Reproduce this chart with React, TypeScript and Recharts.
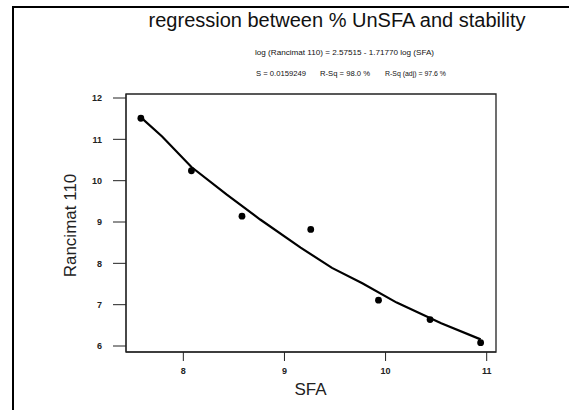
import React from 'react';
import { ScatterChart, Scatter, XAxis, YAxis, ReferenceArea } from 'recharts';

const sfaValues = [7.58, 8.08, 8.58, 9.26, 9.93, 10.44, 10.94];
const rancimatValues = [11.51, 10.24, 9.14, 8.82, 7.11, 6.64, 6.08];

const fitSfa = [7.58, 7.79, 8.08, 8.43, 8.76, 9.16, 9.47, 9.77, 10.11, 10.55, 10.94];
const fitRancimat = [11.53, 11.07, 10.33, 9.66, 9.06, 8.38, 7.89, 7.52, 7.05, 6.55, 6.16];

const xTicks = [8, 9, 10, 11];
const yTicks = [6, 7, 8, 9, 10, 11, 12];

const titleText = 'regression between % UnSFA and stability';
const equationText = 'log (Rancimat 110) = 2.57515 - 1.71770 log (SFA)';
const statsTexts = ['S = 0.0159249', 'R-Sq = 98.0 %', 'R-Sq (adj) = 97.6 %'];
const xLabel = 'SFA';
const yLabel = 'Rancimat 110';

const points = sfaValues.map((x, i) => ({ x, y: rancimatValues[i] }));
const fit = fitSfa.map((x, i) => ({ x, y: fitRancimat[i] }));

const X_DOMAIN: [number, number] = [7.433, 11.092];
const Y_DOMAIN: [number, number] = [5.855, 12.097];

const FONT = '"Liberation Sans", Arial, sans-serif';

const tickStyle = { fontSize: 9, fontWeight: 700, fill: '#222', fontFamily: FONT };

export default function App() {
  return (
    <div style={{ position: 'absolute', left: 0, top: 0, width: 569, height: 410, background: '#fff', overflow: 'hidden' }}>
      <div
        style={{
          position: 'absolute',
          left: 12,
          top: 6,
          width: 557,
          height: 404,
          borderTop: '2px solid #000',
          borderLeft: '2px solid #000',
          boxSizing: 'border-box',
        }}
      />
      <div style={{ position: 'absolute', left: 0, top: 0 }}>
        <ScatterChart width={569} height={410} margin={{ top: 94, right: 73, bottom: 28, left: 66 }}>
          <XAxis
            type="number"
            dataKey="x"
            domain={X_DOMAIN}
            ticks={xTicks}
            allowDataOverflow
            height={30}
            tickSize={9}
            tickMargin={7}
            stroke="#222"
            tick={tickStyle}
            tickLine={{ stroke: '#222' }}
            axisLine={{ stroke: '#222' }}
          />
          <YAxis
            type="number"
            dataKey="y"
            domain={Y_DOMAIN}
            ticks={yTicks}
            allowDataOverflow
            width={60}
            tickSize={13}
            tickMargin={11}
            stroke="#222"
            tick={tickStyle}
            tickLine={{ stroke: '#222' }}
            axisLine={{ stroke: '#222' }}
          />
          <ReferenceArea
            x1={X_DOMAIN[0]}
            x2={X_DOMAIN[1]}
            y1={Y_DOMAIN[0]}
            y2={Y_DOMAIN[1]}
            fill="none"
            fillOpacity={0}
            stroke="#222"
            strokeWidth={1.3}
            ifOverflow="extendDomain"
          />
          <Scatter
            data={fit}
            line={{ stroke: '#000', strokeWidth: 2.2 }}
            lineType="joint"
            shape={() => null}
            isAnimationActive={false}
          />
          <Scatter data={points} fill="#000" shape={(p: any) => <circle cx={p.cx} cy={p.cy} r={3.4} fill="#000" />} isAnimationActive={false} />
        </ScatterChart>
      </div>
      <svg width={569} height={410} style={{ position: 'absolute', left: 0, top: 0, pointerEvents: 'none' }}>
        <text x={337} y={27} textAnchor="middle" fontSize={20} fontFamily={FONT} fill="#111">
          {titleText}
        </text>
        <text x={255} y={55} fontSize={8} fontFamily={FONT} fill="#111" textLength={179} lengthAdjust="spacingAndGlyphs">
          {equationText}
        </text>
        <text x={256} y={76} fontSize={8} fontFamily={FONT} fill="#111" textLength={50} lengthAdjust="spacingAndGlyphs">
          {statsTexts[0]}
        </text>
        <text x={320} y={76} fontSize={8} fontFamily={FONT} fill="#111" textLength={50} lengthAdjust="spacingAndGlyphs">
          {statsTexts[1]}
        </text>
        <text x={385} y={76} fontSize={8} fontFamily={FONT} fill="#111" textLength={61} lengthAdjust="spacingAndGlyphs">
          {statsTexts[2]}
        </text>
        <text x={310.5} y={395} textAnchor="middle" fontSize={17} fontFamily={FONT} fill="#222">
          {xLabel}
        </text>
        <text
          x={76}
          y={225.5}
          textAnchor="middle"
          fontSize={17}
          fontFamily={FONT}
          fill="#222"
          transform="rotate(-90 76 225.5)"
        >
          {yLabel}
        </text>
      </svg>
    </div>
  );
}
